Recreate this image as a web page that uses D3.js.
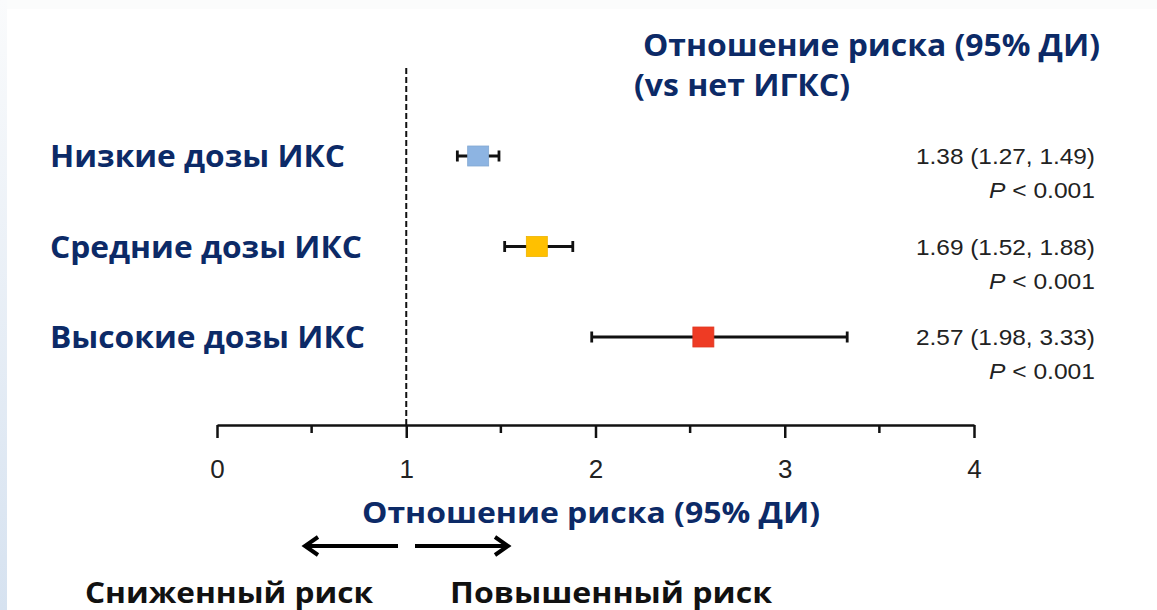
<!DOCTYPE html>
<html><head><meta charset="utf-8">
<script src="https://cdn.jsdelivr.net/npm/d3@7"></script>
<style>body{margin:0;padding:0;overflow:hidden;background:#fff}
.tk text{font-family:"Liberation Sans", Arial, sans-serif !important;font-size:26px !important;}</style>
</head><body>
<script>
const categories = ["Низкие дозы ИКС", "Средние дозы ИКС", "Высокие дозы ИКС"];
const hr = [1.38, 1.69, 2.57];
const lower = [1.27, 1.52, 1.98];
const upper = [1.49, 1.88, 3.33];
const pLabels = ["P < 0.001", "P < 0.001", "P < 0.001"];
const colors = ["#8db4e2", "#ffc000", "#ee3b24"];
const tickValues = [0, 1, 2, 3, 4];
const minorTicks = [0.5, 1.5, 2.5, 3.5];

const W = 1157, H = 610;
const navy = "#0c2a67";
const svg = d3.select("body").append("svg").attr("width", W).attr("height", H);

const defs = svg.append("defs");
const g1 = defs.append("linearGradient").attr("id","lg").attr("x1",0).attr("y1",0).attr("x2",0).attr("y2",1);
g1.append("stop").attr("offset",0).attr("stop-color","#fafbfc");
g1.append("stop").attr("offset",1).attr("stop-color","#d6e2f0");
svg.append("rect").attr("width",W).attr("height",H).attr("fill","#fbfcfc");
svg.append("rect").attr("x",0).attr("y",0).attr("width",7).attr("height",H).attr("fill","url(#lg)");
svg.append("rect").attr("x",7).attr("y",9).attr("width",W-7).attr("height",H-9).attr("fill","#ffffff");

const x = d3.scaleLinear().domain([0,4]).range([217, 974]);
const y = d3.scalePoint().domain(categories).range([156, 337]);
const axisY = 425;

svg.append("line").attr("x1",x(1)).attr("x2",x(1)).attr("y1",68).attr("y2",axisY)
  .attr("stroke","#111").attr("stroke-width",2).attr("stroke-dasharray","6,3");

const axis = d3.axisBottom(x).tickValues(tickValues).tickSize(13).tickSizeOuter(0).tickPadding(22)
  .tickFormat(d3.format("d"));
const ax = svg.append("g").attr("class","tk").attr("transform",`translate(0,${axisY})`).call(axis);
ax.attr("font-size",26).attr("font-family","Liberation Sans, Arial, sans-serif");
ax.select(".domain").attr("stroke","#111").attr("stroke-width",2.5);
ax.selectAll(".tick line").attr("stroke","#111").attr("stroke-width",2.5);
ax.selectAll(".tick text").attr("font-size",26).attr("fill","#222");
svg.append("g").selectAll("line").data(minorTicks).join("line")
  .attr("x1",d=>x(d)).attr("x2",d=>x(d)).attr("y1",axisY).attr("y2",axisY+8)
  .attr("stroke","#111").attr("stroke-width",2.5);

const rows = categories.map((c,i)=>({c, hr:hr[i], lo:lower[i], hi:upper[i], p:pLabels[i], col:colors[i]}));
const rg = svg.append("g").selectAll("g").data(rows).join("g");
rg.append("line").attr("x1",d=>x(d.lo)).attr("x2",d=>x(d.hi)).attr("y1",d=>y(d.c)).attr("y2",d=>y(d.c))
  .attr("stroke","#111").attr("stroke-width",2.8);
rg.append("line").attr("x1",d=>x(d.lo)).attr("x2",d=>x(d.lo)).attr("y1",d=>y(d.c)-5.5).attr("y2",d=>y(d.c)+5.5)
  .attr("stroke","#111").attr("stroke-width",2.8);
rg.append("line").attr("x1",d=>x(d.hi)).attr("x2",d=>x(d.hi)).attr("y1",d=>y(d.c)-5.5).attr("y2",d=>y(d.c)+5.5)
  .attr("stroke","#111").attr("stroke-width",2.8);
rg.append("rect").attr("x",d=>x(d.hr)-10.5).attr("y",d=>y(d.c)-10).attr("width",21).attr("height",20)
  .attr("fill",d=>d.col).attr("stroke",d=>d3.color(d.col).darker(0.2)).attr("stroke-width",0.8);

const bold = (sel)=>sel.attr("font-family","Open Sans, sans-serif").attr("font-weight",700).attr("lengthAdjust","spacingAndGlyphs");
const catWidths = [295, 312, 315];
bold(rg.append("text")).attr("x",50).attr("y",d=>y(d.c)+11).text(d=>d.c)
  .attr("font-size",30).attr("fill",navy).attr("textLength",(d,i)=>catWidths[i]);

const fmt = d3.format(".2f");
rg.append("text").attr("x",1095).attr("y",d=>y(d.c)+8).attr("text-anchor","end")
  .attr("font-family","Liberation Sans, Arial, sans-serif").attr("font-size",22).attr("fill","#222")
  .attr("textLength",179).attr("lengthAdjust","spacingAndGlyphs")
  .text(d=>`${fmt(d.hr)} (${fmt(d.lo)}, ${fmt(d.hi)})`);
rg.append("text").attr("x",1095).attr("y",d=>y(d.c)+42).attr("text-anchor","end")
  .attr("font-family","Liberation Sans, Arial, sans-serif").attr("font-size",22).attr("fill","#222")
  .attr("textLength",106).attr("lengthAdjust","spacingAndGlyphs")
  .each(function(d){
    const t = d3.select(this);
    const parts = d.p.split(" ");
    t.append("tspan").attr("font-style","italic").text(parts[0]);
    t.append("tspan").text(" " + parts.slice(1).join(" "));
  });

bold(svg.append("text")).attr("x",643).attr("y",56).attr("font-size",30).attr("fill",navy)
  .attr("textLength",457).text("Отношение риска (95% ДИ)");
bold(svg.append("text")).attr("x",634).attr("y",96).attr("font-size",30).attr("fill",navy)
  .attr("textLength",216).text("(vs нет ИГКС)");
bold(svg.append("text")).attr("x",362).attr("y",523).attr("font-size",29).attr("fill",navy)
  .attr("textLength",458).text("Отношение риска (95% ДИ)");

const ag = svg.append("g").attr("stroke","#000").attr("fill","none").attr("stroke-width",4).attr("stroke-linecap","butt");
ag.append("line").attr("x1",306).attr("x2",398).attr("y1",546).attr("y2",546);
ag.append("path").attr("d","M318,537 L305,546 L318,555").attr("stroke-linejoin","miter");
ag.append("line").attr("x1",415).attr("x2",507).attr("y1",546).attr("y2",546);
ag.append("path").attr("d","M495,537 L508,546 L495,555").attr("stroke-linejoin","miter");

bold(svg.append("text")).attr("x",85).attr("y",603).attr("font-size",28).attr("fill","#111")
  .attr("textLength",288).text("Сниженный риск");
bold(svg.append("text")).attr("x",450).attr("y",603).attr("font-size",28).attr("fill","#111")
  .attr("textLength",322).text("Повышенный риск");
</script>
</body></html>
